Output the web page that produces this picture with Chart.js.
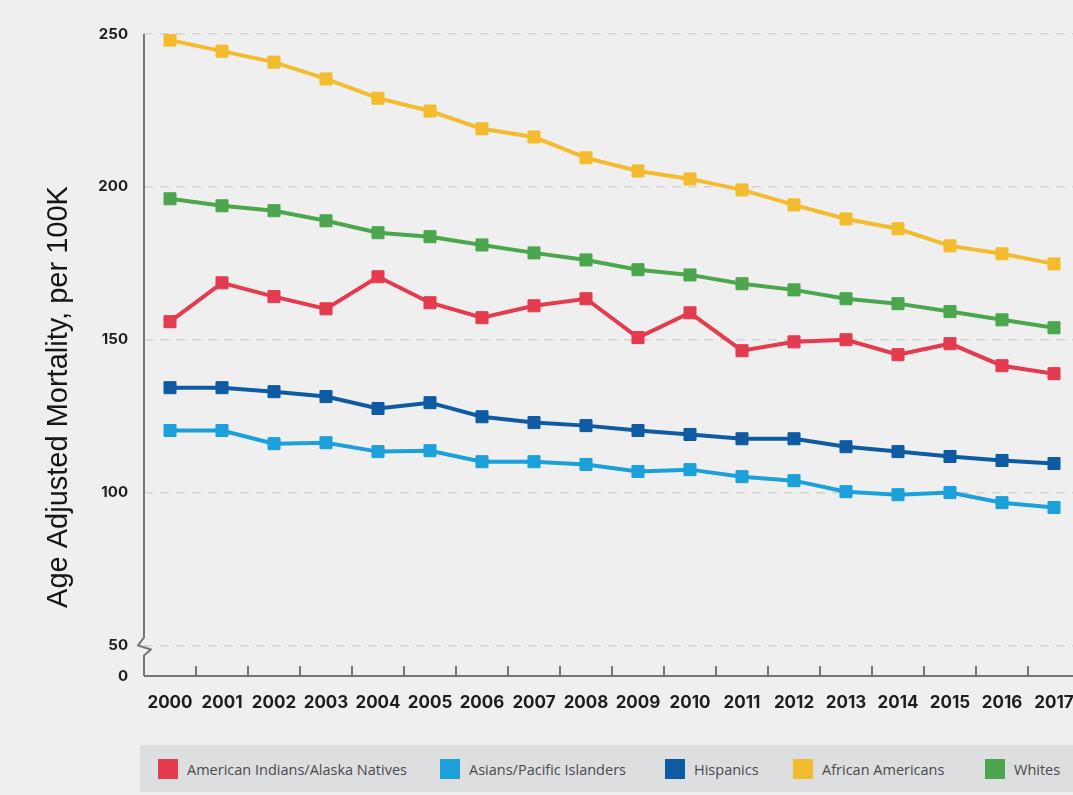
<!DOCTYPE html>
<html>
<head>
<meta charset="utf-8">
<script src="https://cdn.jsdelivr.net/npm/chart.js@4.4.1/dist/chart.umd.min.js"></script>
<style>
  html, body { margin: 0; padding: 0; background: #efefef; overflow: hidden; width: 1073px; height: 795px; }
  #wrap { position: absolute; left: 0; top: 0; width: 1092px; height: 730px; }
  #legend { position: absolute; left: 140px; top: 745px; width: 960px; height: 47px; background: #dcdedf; }
  .item { position: absolute; top: 14px; height: 20px; display: flex; align-items: center;
          font-family: 'Open Sans', sans-serif; font-size: 14.5px; color: #4a4a4a; white-space: nowrap; }
  .sw { width: 20px; height: 20px; margin-right: 9px; flex: none; }
</style>
</head>
<body>
<div id="wrap"><canvas id="chart" width="1092" height="730"></canvas></div>
<div id="legend"></div>
<script>
// data
const years = ['2000', '2001', '2002', '2003', '2004', '2005', '2006', '2007', '2008',
               '2009', '2010', '2011', '2012', '2013', '2014', '2015', '2016', '2017'];
const amIndian  = [155.9, 168.6, 164.1, 160.1, 170.6, 162.1, 157.2, 161.1, 163.4,
                   150.7, 158.8, 146.4, 149.3, 150.0, 145.1, 148.7, 141.5, 138.9];
const asianPI   = [120.3, 120.3, 116.0, 116.3, 113.4, 113.7, 110.1, 110.1, 109.2,
                   106.9, 107.5, 105.2, 103.9, 100.3, 99.3, 100.0, 96.7, 95.1];
const hispanic  = [134.3, 134.3, 133.0, 131.4, 127.5, 129.4, 124.8, 122.9, 121.9,
                   120.3, 119.0, 117.6, 117.6, 115.0, 113.4, 111.8, 110.5, 109.5];
const africanAm = [248.0, 244.4, 240.8, 235.3, 229.0, 224.8, 219.0, 216.3, 209.5,
                   205.2, 202.6, 199.0, 194.1, 189.5, 186.3, 180.7, 178.1, 174.8];
const whites    = [196.1, 193.8, 192.2, 188.9, 185.0, 183.7, 181.0, 178.4, 176.1,
                   172.9, 171.2, 168.3, 166.3, 163.4, 161.8, 159.2, 156.5, 153.9];
const seriesNames = ['American Indians/Alaska Natives', 'Asians/Pacific Islanders',
                     'Hispanics', 'African Americans', 'Whites'];
// broken axis: the bottom tick stands for 0
const yTickValues = [40, 50, 100, 150, 200, 250];
const yTickLabels = ['0', '50', '100', '150', '200', '250'];
const yTitle = 'Age Adjusted Mortality, per 100K';

const colors = ['#e43b4e', '#1ba0da', '#0e5ba4', '#f3bb2e', '#4ba64d'];
const series = [amIndian, asianPI, hispanic, africanAm, whites];

const datasets = series.map((vals, i) => ({
  label: seriesNames[i],
  data: vals,
  borderColor: colors[i],
  backgroundColor: colors[i],
  pointBackgroundColor: colors[i],
  pointBorderColor: colors[i],
  borderWidth: 4,
  pointStyle: 'rect',
  pointRadius: 8.5,
  pointBorderWidth: 1,
  tension: 0
}));

// axis lines, x tick marks, the break mark and the y title
const axesPlugin = {
  id: 'axes',
  beforeDatasetsDraw(chart) {
    const { ctx, chartArea: a, scales: { x, y } } = chart;
    ctx.save();
    ctx.strokeStyle = '#767676';
    ctx.lineWidth = 2;
    ctx.lineJoin = 'round';
    ctx.beginPath();
    ctx.moveTo(a.left, a.bottom);
    ctx.lineTo(a.right, a.bottom);
    ctx.stroke();
    for (let i = 0; i < years.length - 1; i++) {
      const px = Math.round((x.getPixelForValue(i) + x.getPixelForValue(i + 1)) / 2);
      ctx.beginPath();
      ctx.moveTo(px, a.bottom);
      ctx.lineTo(px, a.bottom - 10);
      ctx.stroke();
    }
    const yb = y.getPixelForValue(50);
    ctx.beginPath();
    ctx.moveTo(a.left, a.top);
    ctx.lineTo(a.left, yb - 8);
    ctx.lineTo(a.left - 6, yb);
    ctx.lineTo(a.left + 7, yb + 4);
    ctx.lineTo(a.left, yb + 10);
    ctx.lineTo(a.left, a.bottom);
    ctx.stroke();

    // axis title, sitting a little below the middle of the axis
    ctx.translate(67, 397);
    ctx.rotate(-Math.PI / 2);
    ctx.fillStyle = '#161616';
    ctx.font = '29px "Liberation Sans"';
    ctx.textAlign = 'center';
    ctx.textBaseline = 'alphabetic';
    ctx.fillText(yTitle, 0, 0);
    ctx.restore();
  }
};

new Chart(document.getElementById('chart'), {
  type: 'line',
  data: { labels: years, datasets },
  plugins: [axesPlugin],
  options: {
    responsive: false,
    animation: false,
    layout: { padding: { top: 34, right: 12, bottom: 14, left: 0 } },
    plugins: { legend: { display: false }, tooltip: { enabled: false } },
    scales: {
      x: {
        offset: true,
        grid: { display: false },
        border: { display: false },
        afterFit: s => { s.height = 40; },
        ticks: {
          padding: 9, maxRotation: 0, autoSkip: false, color: '#1e1e1e',
          font: { family: 'Inter', weight: 700, size: 17 }
        }
      },
      y: {
        min: 40,
        max: 250,
        afterBuildTicks: s => { s.ticks = yTickValues.map(v => ({ value: v })); },
        afterFit: s => { s.width = 144; },
        border: { display: false, dash: [9, 7] },
        grid: {
          drawTicks: false,
          lineWidth: 1.5,
          color: c => (c.tick && c.tick.value === 40) ? 'rgba(0,0,0,0)' : '#d3d3d3'
        },
        ticks: {
          padding: 16, color: '#1e1e1e',
          font: { family: 'Inter', weight: 700, size: 15 },
          callback: v => yTickLabels[yTickValues.indexOf(v)]
        }
      }
    }
  }
});

// legend strip under the chart
const legendLeft = [18, 300, 525, 653, 845];
const legend = document.getElementById('legend');
seriesNames.forEach((name, i) => {
  const item = document.createElement('div');
  item.className = 'item';
  item.style.left = legendLeft[i] + 'px';
  const sw = document.createElement('span');
  sw.className = 'sw';
  sw.style.background = colors[i];
  item.appendChild(sw);
  item.appendChild(document.createTextNode(name));
  legend.appendChild(item);
});
</script>
</body>
</html>
